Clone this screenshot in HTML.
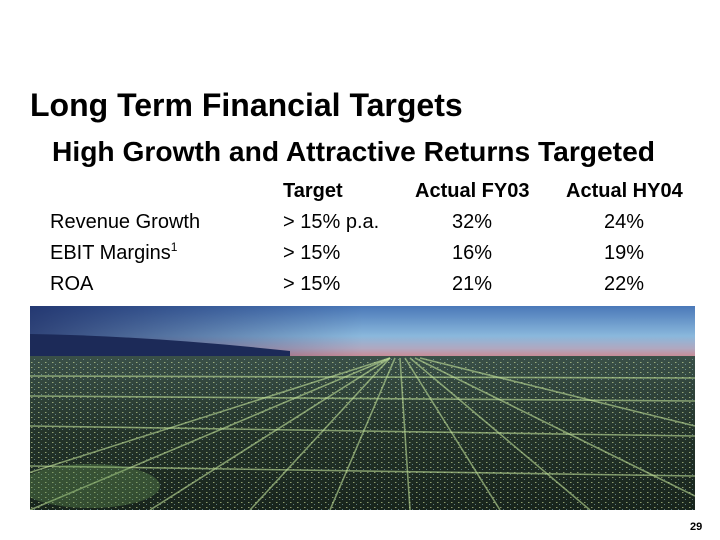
<!DOCTYPE html>
<html><head><style>
body{margin:0;width:720px;height:540px;background:#fff;position:relative;overflow:hidden;font-family:"Liberation Sans",Arial,sans-serif;color:#000}
.t{position:absolute;white-space:nowrap;line-height:1}
.r{font-size:20px}
sup{font-size:12px;line-height:0;position:relative;top:-8px;vertical-align:baseline}
</style></head><body>
<div class="t" style="left:30px;top:89px;font-size:32px;font-weight:bold">Long Term Financial Targets</div>
<div class="t" style="left:52px;top:137px;font-size:28.2px;font-weight:bold">High Growth and Attractive Returns Targeted</div>
<div class="t r" style="left:283px;top:181px;font-weight:bold">Target</div>
<div class="t r" style="left:415px;top:181px;font-weight:bold">Actual FY03</div>
<div class="t r" style="left:566px;top:181px;font-weight:bold">Actual HY04</div>
<div class="t r" style="left:50px;top:212px">Revenue Growth</div>
<div class="t r" style="left:50px;top:243px">EBIT Margins<sup>1</sup></div>
<div class="t r" style="left:50px;top:274px">ROA</div>
<div class="t r" style="left:283px;top:212px">&gt; 15% p.a.</div>
<div class="t r" style="left:283px;top:243px">&gt; 15%</div>
<div class="t r" style="left:283px;top:274px">&gt; 15%</div>
<div class="t r" style="left:452px;top:212px">32%</div>
<div class="t r" style="left:452px;top:243px">16%</div>
<div class="t r" style="left:452px;top:274px">21%</div>
<div class="t r" style="left:604px;top:212px">24%</div>
<div class="t r" style="left:604px;top:243px">19%</div>
<div class="t r" style="left:604px;top:274px">22%</div>
<svg style="position:absolute;left:30px;top:306px" width="665" height="204" viewBox="0 0 665 204">
<defs>
<linearGradient id="sky" x1="0" y1="0" x2="0" y2="1">
<stop offset="0" stop-color="#4a78b8"/><stop offset="0.6" stop-color="#8ab8dc"/><stop offset="0.85" stop-color="#b0a8c0"/><stop offset="1" stop-color="#c88c98"/></linearGradient>
<linearGradient id="skyl" x1="0" y1="0" x2="1" y2="0">
<stop offset="0" stop-color="#1a2860" stop-opacity="0.8"/><stop offset="0.5" stop-color="#1a2860" stop-opacity="0"/></linearGradient>
<linearGradient id="city" x1="0" y1="0" x2="0" y2="1">
<stop offset="0" stop-color="#3a5048"/><stop offset="0.5" stop-color="#24342a"/><stop offset="1" stop-color="#18241c"/></linearGradient>
<pattern id="dots" width="7" height="5" patternUnits="userSpaceOnUse">
<rect x="1" y="1" width="1.5" height="1" fill="#d8e8a0" opacity="0.6"/><rect x="4" y="3" width="1" height="1" fill="#a0d0e0" opacity="0.5"/></pattern>
</defs>
<rect width="665" height="50" fill="url(#sky)"/>
<rect width="665" height="50" fill="url(#skyl)"/>
<path d="M0 28 Q120 30 260 45 L260 52 L0 52Z" fill="#1c2a58"/>
<rect y="50" width="665" height="154" fill="url(#city)"/>
<rect y="52" width="665" height="152" fill="url(#dots)"/>
<g stroke="#c0e098" stroke-opacity="0.6" stroke-width="1.6">
<line x1="360" y1="52" x2="-200" y2="230"/><line x1="360" y1="52" x2="0" y2="204"/>
<line x1="360" y1="52" x2="120" y2="204"/><line x1="360" y1="52" x2="220" y2="204"/>
<line x1="365" y1="52" x2="300" y2="204"/><line x1="370" y1="52" x2="380" y2="204"/>
<line x1="375" y1="52" x2="470" y2="204"/><line x1="380" y1="52" x2="560" y2="204"/>
<line x1="385" y1="52" x2="665" y2="190"/><line x1="390" y1="52" x2="665" y2="120"/>
<line x1="0" y1="90" x2="665" y2="95"/><line x1="0" y1="120" x2="665" y2="130"/>
<line x1="0" y1="160" x2="665" y2="170"/><line x1="0" y1="70" x2="665" y2="72"/>
</g>
<ellipse cx="60" cy="180" rx="70" ry="22" fill="#6a9a58" opacity="0.35"/>
</svg>
<div class="t" style="left:690px;top:522px;font-size:11px;font-weight:bold">29</div>
</body></html>
